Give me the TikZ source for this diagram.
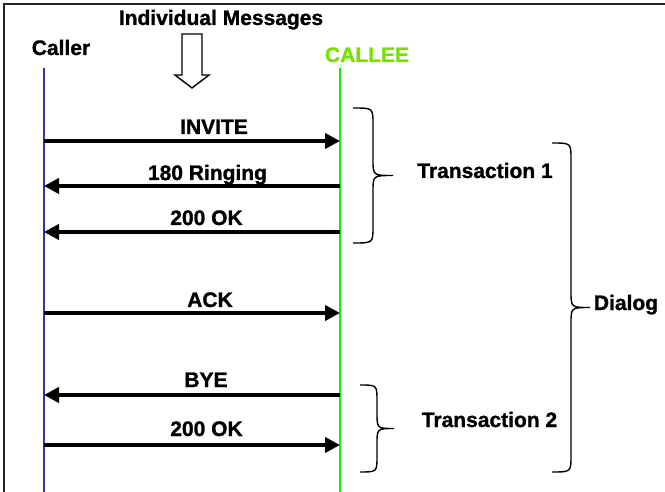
\documentclass[tikz,border=0pt]{standalone}
\usepackage{fontspec}
\setmainfont{Liberation Sans}[BoldFeatures={FakeBold=1.2}]
\usetikzlibrary{arrows.meta}
\definecolor{callerblue}{RGB}{50,50,170}
\definecolor{calleegreen}{RGB}{20,235,20}
\definecolor{calleelime}{RGB}{120,225,0}

\begin{document}
\begin{tikzpicture}[x=1pt, y=-1pt,
    lbl/.style={anchor=base, inner sep=0pt, font=\fontsize{21}{25}\selectfont\bfseries},
    msg/.style={line width=4pt, -{Triangle[length=15pt, width=15pt]}},
    pics/curly/.style 2 args={code={
        \draw[line width=1.4pt] (0,0) .. controls (#2,0) .. (#2,16) -- (#2,#1/2-16)
            .. controls (#2,#1/2) .. (2*#2,#1/2) .. controls (#2,#1/2) .. (#2,#1/2+16)
            -- (#2,#1-16) .. controls (#2,#1) .. (0,#1);}}]
    \useasboundingbox (0,0) rectangle (665,492);
    \draw[line width=2pt, black!85] (4,492) -- (4,4) -- (665,4);

    % heads
    \node[lbl] (title) at (221,25) {Individual Messages};
    \node[lbl] (caller) at (61,55) {Caller};
    \node[lbl, text=calleelime] (callee) at (367,62) {CALLEE};
    \draw[line width=1.4pt] (182,34) -- (202,34) -- (202,75) -- (209,75) -- (192,88)
        -- (175,75) -- (182,75) -- cycle;

    % lifelines
    \coordinate (atop) at (44,68);  \coordinate (abot) at (44,492);
    \coordinate (btop) at (340,68); \coordinate (bbot) at (340,492);
    \draw[callerblue, line width=1.3pt] (atop) -- (abot);
    \draw[calleegreen, line width=1.3pt] (btop) -- (bbot);

    \foreach \n/\y in {1/141, 2/186, 3/232, 4/313, 5/395, 6/445}{
        \coordinate (a\n) at (44,\y);
        \coordinate (b\n) at (340,\y);
    }
    \draw[msg] (a1) -- (b1);
    \draw[msg] (b2) -- (a2);
    \draw[msg] (b3) -- (a3);
    \draw[msg] (a4) -- (b4);
    \draw[msg] (b5) -- (a5);
    \draw[msg] (a6) -- (b6);

    \node[lbl] (invite) at (214,134) {INVITE};
    \node[lbl] (ringing) at (207.5,180) {180 Ringing};
    \node[lbl] (ok1) at (206.5,225) {200 OK};
    \node[lbl] (ack) at (210,307) {ACK};
    \node[lbl] (bye) at (206,387) {BYE};
    \node[lbl] (ok2) at (206.5,436) {200 OK};

    % braces
    \pic at (353,108) {curly={135}{20}};
    \pic at (552,143) {curly={329}{19}};
    \pic at (360,385) {curly={87}{17}};
    \node[lbl] (trans1) at (485,178) {Transaction 1};
    \node[lbl] (trans2) at (489.5,427) {Transaction 2};
    \node[lbl] (dialog) at (626,310) {Dialog};
\end{tikzpicture}
\end{document}
